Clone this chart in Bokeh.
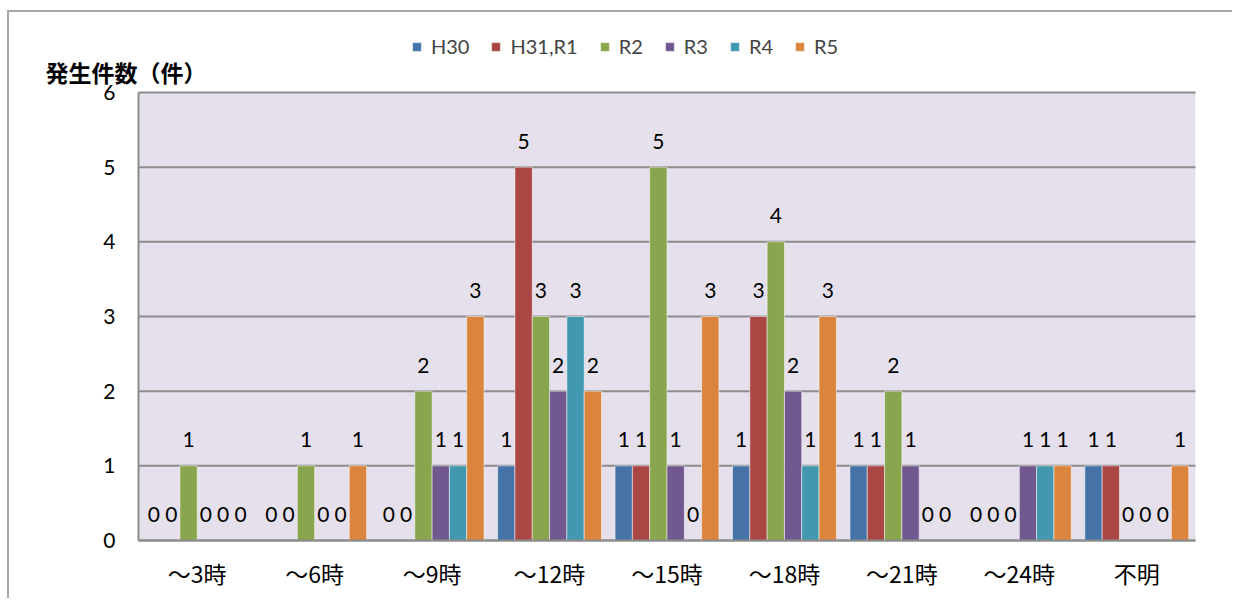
from bokeh.plotting import figure
from bokeh.models import (ColumnDataSource, Range1d, FixedTicker, Legend, LegendItem,
                          Label, BoxAnnotation)
from bokeh.core.properties import value
from bokeh.embed import file_html
from bokeh.resources import INLINE

categories = ["～3時", "～6時", "～9時", "～12時", "～15時", "～18時", "～21時", "～24時", "不明"]
series_names = ["H30", "H31,R1", "R2", "R3", "R4", "R5"]
h30 = [0, 0, 0, 1, 1, 1, 1, 0, 1]
h31_r1 = [0, 0, 0, 5, 1, 3, 1, 0, 1]
r2 = [1, 1, 2, 3, 5, 4, 2, 0, 0]
r3 = [0, 0, 1, 2, 1, 2, 1, 1, 0]
r4 = [0, 0, 1, 3, 0, 1, 0, 1, 0]
r5 = [0, 1, 3, 2, 3, 3, 0, 1, 1]
y_ticks = [0, 1, 2, 3, 4, 5, 6]
y_title = "発生件数（件）"

series_values = [h30, h31_r1, r2, r3, r4, r5]
colors = ["#4572A7", "#AA4643", "#89A54E", "#71588F", "#4198AF", "#DB843D"]

LATIN = "Lato"
CJK = "Noto Sans CJK JP"

# ---- layout geometry (page pixels) ----
W, H = 1225, 588            # canvas size
OX, OY = 9, 12              # canvas origin on the page (after margin + border)
PL, PR, PT, PB = 138, 1195, 92, 540   # plot area on the page
ncat = len(categories)
ymax = y_ticks[-1]
sx = (PR - PL) / ncat
sy = (PB - PT) / ymax
x_range = Range1d((OX - PL) / sx, (OX + W - PL) / sx)
y_range = Range1d((PB - (OY + H)) / sy, (PB - OY) / sy)

p = figure(width=W, height=H, output_backend="svg", toolbar_location=None,
           x_range=x_range, y_range=y_range,
           min_border=0, min_border_left=0, min_border_right=0,
           min_border_top=0, min_border_bottom=0,
           styles={"margin-left": "7px", "margin-top": "10px",
                   "border-left": "2px solid #A6A6A6", "border-top": "2px solid #A6A6A6"})
p.title_location = None
p.background_fill_color = "white"
p.border_fill_color = "white"
p.outline_line_color = None

# plot-area background
p.add_layout(BoxAnnotation(left=0, right=ncat, bottom=0, top=ymax, level="underlay",
                           fill_color="#E5E0EC", fill_alpha=1, line_color=None))

# horizontal grid lines, limited to the plot area
p.segment(x0=[0] * len(y_ticks), y0=y_ticks, x1=[ncat] * len(y_ticks), y1=y_ticks,
          line_color="#8C8C8C", line_width=2)

bw = 0.1474
renderers = []
for j, (name, vals, col) in enumerate(zip(series_names, series_values, colors)):
    xs = [i + 0.5 + (j - 2.5) * bw for i in range(ncat)]
    src = ColumnDataSource(dict(x=xs, top=vals, lab=[str(v) for v in vals]))
    r = p.vbar(x="x", top="top", width=bw, bottom=0, source=src, fill_color=col,
               line_color="white", line_alpha=0.5, line_width=1)
    renderers.append(r)
    p.text(x="x", y="top", text="lab", source=src, text_align="center",
           text_baseline="alphabetic", y_offset=-26, text_font=value(LATIN),
           text_font_size="21px", text_color="black")

# axes, pinned to the plot area
p.xaxis.fixed_location = 0
p.xaxis.bounds = (0, ncat)
p.xaxis.ticker = FixedTicker(ticks=[i + 0.5 for i in range(ncat)])
p.xaxis.major_label_overrides = {i + 0.5: c for i, c in enumerate(categories)}
p.xaxis.major_label_text_font = CJK
p.xaxis.major_label_text_font_size = "23px"
p.xaxis.major_label_text_color = "black"
p.xaxis.major_label_standoff = 15
p.xaxis.major_tick_in = 0
p.xaxis.major_tick_out = 0
p.xaxis.minor_tick_line_color = None
p.xaxis.axis_line_color = "#8C8C8C"
p.xaxis.axis_line_width = 2

p.yaxis.fixed_location = 0
p.yaxis.bounds = (0, ymax)
p.yaxis.ticker = FixedTicker(ticks=y_ticks)
p.yaxis.major_label_text_font = LATIN
p.yaxis.major_label_text_font_size = "21px"
p.yaxis.major_label_text_color = "black"
p.yaxis.major_label_standoff = 23
p.yaxis.major_tick_in = 0
p.yaxis.major_tick_out = 0
p.yaxis.minor_tick_line_color = None
p.yaxis.axis_line_color = "#8C8C8C"
p.yaxis.axis_line_width = 2

p.xgrid.grid_line_color = None
p.ygrid.grid_line_color = None

# y-axis title, top-left above the plot area
p.add_layout(Label(x=(45 - PL) / sx, y=(PB - 71) / sy, text=y_title,
                   text_font=CJK, text_font_size="23px", text_font_style="bold",
                   text_color="black", text_baseline="middle", text_align="left"))

# legend along the top
items = [LegendItem(label=n, renderers=[r]) for n, r in zip(series_names, renderers)]
legend = Legend(items=items, orientation="horizontal",
                location=(411 - OX, OY + H - 58),
                label_text_font=LATIN, label_text_font_size="20px",
                glyph_width=11, glyph_height=11, label_standoff=9, spacing=21,
                padding=0, margin=0, border_line_color=None, background_fill_alpha=0)
p.add_layout(legend, "center")

open("out.html", "w").write(file_html(p, INLINE))
